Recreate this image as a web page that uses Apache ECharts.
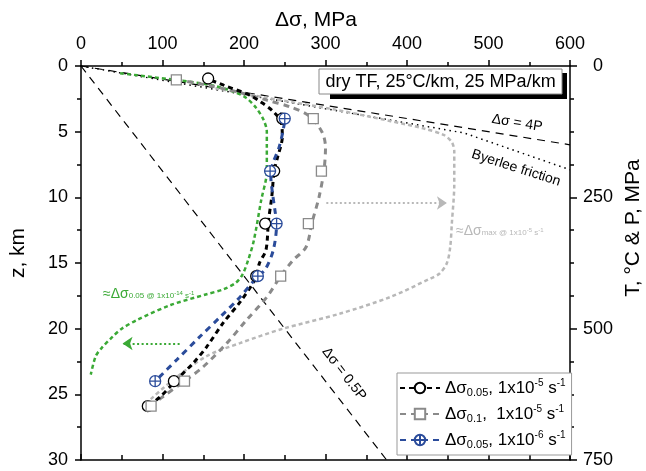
<!DOCTYPE html>
<html lang="en">
<head>
  <meta charset="UTF-8">
  <title>Differential stress vs depth</title>
  <script src="https://cdn.jsdelivr.net/npm/echarts@6/dist/echarts.min.js"></script>
  <style>
    html, body { margin: 0; padding: 0; background: #fff; }
    #chart { width: 646px; height: 471px; }
  </style>
</head>
<body>
  <div id="chart"></div>
  <script>
    // [stress MPa, depth km]
    const blackCurve = [[160,1.1],[175,1.46],[207,2.22],[220,2.72],[234,3.36],[245,4.2],[247,5.4],[241,7.0],[237,8.0],[234,10],[230,11.8],[227,14.0],[219,15],[214,16.2],[196,17.9],[174,19.6],[154,21.4],[138,22.6],[117,23.9],[97,25.2],[82,25.9]];
    const grayCurve = [[117,1.05],[150,1.4],[191,1.96],[228,2.6],[256,3.1],[280,3.8],[296,5.06],[300,6.2],[298,8],[292,10],[284,11.8],[276,13.8],[260,14.8],[245,16],[228,17.6],[203,19.35],[179,21.1],[150,22.9],[127,24],[100,25.2],[86,25.9]];
    const blueCurve = [[244,3.6],[250,4.0],[248,4.9],[243,6.2],[235,7.5],[233,8.5],[235,9.7],[238,11],[240,12],[236,14.0],[226,15.5],[217,16.0],[195,17.6],[171,19.1],[146,20.6],[117,22.4],[91,24.0]];
    const greenCurve = [[48,0.55],[121,1.1],[158,1.43],[185,1.9],[202,2.4],[215,3.2],[224,4.1],[228,5.0],[228,6.0],[228,8.0],[221,10.25],[212,13.3],[205,14.8],[198,15.9],[190,16.5],[175,17.0],[153,17.4],[110,18.2],[70,19.3],[50,20.0],[39,20.6],[25,21.5],[18,22.1],[12,23.5]];
    const maxCurve = [[165,1.7],[240,2.55],[310,3.3],[380,4.2],[420,4.75],[445,5.25],[455,5.8],[458,6.5],[458,9],[455,12],[453,13.8],[449,15.0],[440,15.8],[428,16.2],[379,17.6],[318,18.85],[248,20.0],[195,21.1],[154,22.1],[113,23.9],[85,25.4]];

    const blackMarks = [[156,0.95],[247,4.0],[237,8.0],[226,12.0],[215,16.0],[114,24.0],[82,25.9]];
    const grayMarks = [[117,1.05],[285,4.0],[295,8.0],[279,12.0],[245,16.0],[127,24.0],[86,25.9]];
    const blueMarks = [[250,4.0],[232,8.0],[240,12.0],[217,16.0],[91,24.0]];

    const line4P = [[0,0],[600,6]];
    const byerlee = [[0,0],[470,5.1],[600,7.9]];
    const lineHalfP = [[0,0],[375,30]];

    const greenArrow = [[121,21.13],[51,21.13]];
    const grayArrow = [[301,10.43],[449,10.43]];

    const stressTicks = [0, 600, 100];
    const depthTicks = [0, 30, 5];
    const tpTicks = [0, 750, 250];

    const FONT = 'Liberation Sans, Arial, sans-serif';
    const BLUE = '#2b4c9b';
    const GREEN = '#3aa935';
    const GRAY = '#8a8a8a';
    const LIGHT = '#b8b8b8';
    const PLUS = 'path://M10,0A10,10,0,1,1,-10,0A10,10,0,1,1,10,0ZM-10,0L10,0M0,-10L0,10';

    const legendNames = ['b05', 'g1', 'bl05'];
    const legendText = {
      b05: '{a|Δσ}{s|0.05}{a|, 1x10}{p|-5}{a| s}{p|-1}',
      g1: '{a|Δσ}{s|0.1}{a|,  1x10}{p|-5}{a| s}{p|-1}',
      bl05: '{a|Δσ}{s|0.05}{a|, 1x10}{p|-6}{a| s}{p|-1}'
    };

    const chart = echarts.init(document.getElementById('chart'));

    const axisLine = { onZero: false, lineStyle: { color: '#000', width: 1.5 } };
    const tickStyle = { color: '#000', width: 1.5 };
    const label = { color: '#000', fontSize: 18, fontFamily: FONT };

    function curve(name, data, color, width, dash, symbol, itemStyle) {
      return {
        name: name, type: 'line', data: data, smooth: 0.3, showSymbol: false,
        symbol: symbol || 'none', itemStyle: itemStyle || { color: color },
        lineStyle: { color: color, width: width, type: dash },
        silent: true, z: 3, animation: false
      };
    }
    function refLine(data, dash, width) {
      return {
        type: 'line', data: data, showSymbol: false, symbol: 'none',
        lineStyle: { color: '#000', width: width, type: dash },
        silent: true, z: 2, animation: false
      };
    }
    function marks(data, symbol, size, border, z) {
      return {
        type: 'scatter', data: data, symbol: symbol, symbolSize: size,
        itemStyle: { color: '#fff', borderColor: border, borderWidth: 1.3, opacity: 1 },
        silent: true, z: z, animation: false
      };
    }
    function arrow(pts, color) {
      return {
        silent: true, symbol: ['none', 'arrow'], symbolSize: 10, animation: false,
        label: { show: false },
        lineStyle: { color: color, width: 2, type: [2, 2.5] },
        data: [[{ coord: pts[0] }, { coord: pts[1] }]]
      };
    }
    // small annotation with sub/superscripts
    function noteRich(color) {
      return {
        a: { fontSize: 14, fontFamily: FONT, fill: color, color: color, verticalAlign: 'middle' },
        s: { fontSize: 8, fontFamily: FONT, fill: color, color: color, verticalAlign: 'middle', padding: [3, 0, 0, 0] },
        p: { fontSize: 6, fontFamily: FONT, fill: color, color: color, verticalAlign: 'middle', padding: [0, 0, 2, 0] }
      };
    }
    function note(text, x, y, rot) {
      return {
        type: 'text', x: x, y: y, rotation: rot, z: 12,
        style: { text: text, font: '14px ' + FONT, fill: '#000', align: 'center', verticalAlign: 'middle', textAlign: 'center', textVerticalAlign: 'middle' }
      };
    }

    const greenSeries = curve('green', greenCurve, GREEN, 2.5, [4, 3]);
    greenSeries.markLine = arrow(greenArrow, GREEN);
    const maxSeries = curve('max', maxCurve, LIGHT, 2.5, [4, 3]);
    maxSeries.markLine = arrow(grayArrow, LIGHT);

    const option = {
      backgroundColor: '#fff',
      animation: false,
      grid: { left: 81, right: 76, top: 66, bottom: 11, containLabel: false },
      xAxis: [
        {
          type: 'value', position: 'top', min: stressTicks[0], max: stressTicks[1], interval: stressTicks[2],
          axisLine: axisLine, axisTick: { length: 6, lineStyle: tickStyle },
          minorTick: { show: true, splitNumber: 2, length: 4, lineStyle: tickStyle },
          axisLabel: Object.assign({ margin: 13 }, label), splitLine: { show: false }
        },
        {
          type: 'value', position: 'bottom', min: stressTicks[0], max: stressTicks[1], interval: stressTicks[2],
          axisLine: axisLine, axisTick: { inside: true, length: 6, lineStyle: tickStyle },
          minorTick: { show: true, splitNumber: 2, length: 5, lineStyle: tickStyle },
          axisLabel: { show: false }, splitLine: { show: false }
        }
      ],
      yAxis: [
        {
          type: 'value', position: 'left', inverse: true, min: depthTicks[0], max: depthTicks[1], interval: depthTicks[2],
          axisLine: axisLine, axisTick: { length: 6, lineStyle: tickStyle },
          minorTick: { show: true, splitNumber: 2, length: 4, lineStyle: tickStyle },
          axisLabel: Object.assign({ margin: 13 }, label), splitLine: { show: false }
        },
        {
          type: 'value', position: 'right', inverse: true, min: tpTicks[0], max: tpTicks[1], interval: tpTicks[2],
          axisLine: axisLine, axisTick: { length: 7, lineStyle: tickStyle },
          minorTick: { show: true, splitNumber: 4, length: 4, lineStyle: tickStyle },
          axisLabel: Object.assign({ margin: 28, align: 'center' }, label), splitLine: { show: false }
        }
      ],
      legend: {
        data: legendNames, orient: 'vertical', left: 397, top: 373,
        padding: [5, 6, 5, 2], itemGap: 6, itemWidth: 40, itemHeight: 13,
        backgroundColor: '#fff', borderColor: '#999', borderWidth: 1,
        selectedMode: false,
        formatter: function (n) { return legendText[n]; },
        textStyle: {
          color: '#000', fontFamily: FONT, fontSize: 17,
          rich: {
            a: { fontSize: 17, fontFamily: FONT, color: '#000', lineHeight: 20 },
            s: { fontSize: 11, fontFamily: FONT, color: '#000', verticalAlign: 'bottom', lineHeight: 12 },
            p: { fontSize: 10, fontFamily: FONT, color: '#000', verticalAlign: 'top', lineHeight: 11 }
          }
        }
      },
      graphic: [
        { type: 'text', x: 316, y: 20, style: { text: 'Δσ, MPa', font: '21px ' + FONT, fill: '#000', align: 'center', verticalAlign: 'middle', textAlign: 'center', textVerticalAlign: 'middle' } },
        { type: 'text', x: 18, y: 253, rotation: Math.PI / 2, style: { text: 'z, km', font: '21px ' + FONT, fill: '#000', align: 'center', verticalAlign: 'middle', textAlign: 'center', textVerticalAlign: 'middle' } },
        { type: 'text', x: 633, y: 228, rotation: Math.PI / 2, style: { text: 'T, °C & P, MPa', font: '21px ' + FONT, fill: '#000', align: 'center', verticalAlign: 'middle', textAlign: 'center', textVerticalAlign: 'middle' } },
        { type: 'rect', shape: { x: 330, y: 73, width: 237, height: 26 }, style: { fill: '#000' }, z: 10 },
        { type: 'rect', shape: { x: 319, y: 69, width: 243, height: 25 }, style: { fill: '#fff', stroke: '#888', lineWidth: 1 }, z: 11 },
        { type: 'text', x: 440.5, y: 82, z: 12, style: { text: 'dry TF, 25°C/km, 25 MPa/km', font: '18px ' + FONT, fill: '#000', align: 'center', verticalAlign: 'middle', textAlign: 'center', textVerticalAlign: 'middle' } },
        note('Δσ = 4P', 517, 123, -0.16),
        note('Byerlee friction', 516, 168, -0.31),
        note('Δσ = 0.5P', 344, 374, -0.91),
        {
          type: 'text', x: 456, y: 231, z: 12,
          style: {
            text: '{a|≈Δσ}{s|max @ 1x10}{p|-5}{s| s}{p|-1}', fill: LIGHT, align: 'left', verticalAlign: 'middle', textAlign: 'left', textVerticalAlign: 'middle',
            rich: noteRich(LIGHT)
          }
        },
        {
          type: 'text', x: 103, y: 294, z: 12,
          style: {
            text: '{a|≈Δσ}{s|0.05 @ 1x10}{p|-14}{s| s}{p|-1}', fill: GREEN, align: 'left', verticalAlign: 'middle', textAlign: 'left', textVerticalAlign: 'middle',
            rich: noteRich(GREEN)
          }
        }
      ],
      series: [
        refLine(line4P, [8, 6], 1.2),
        refLine(byerlee, [1.5, 4], 1.5),
        refLine(lineHalfP, [8, 6], 1.2),
        maxSeries,
        greenSeries,
        curve('g1', grayCurve, GRAY, 3, [6, 5], 'rect', { color: '#fff', borderColor: GRAY, borderWidth: 1.3 }),
        curve('b05', blackCurve, '#000', 3, [5, 4], 'circle', { color: '#fff', borderColor: '#000', borderWidth: 1.3 }),
        curve('bl05', blueCurve, BLUE, 3, [6, 5], PLUS, { color: '#fff', borderColor: BLUE, borderWidth: 1.3 }),
        marks(blackMarks, 'circle', 11, '#000', 5),
        marks(grayMarks, 'rect', 10, GRAY, 6),
        marks(blueMarks, PLUS, 11, BLUE, 7)
      ]
    };
    chart.setOption(option);
  </script>
</body>
</html>
